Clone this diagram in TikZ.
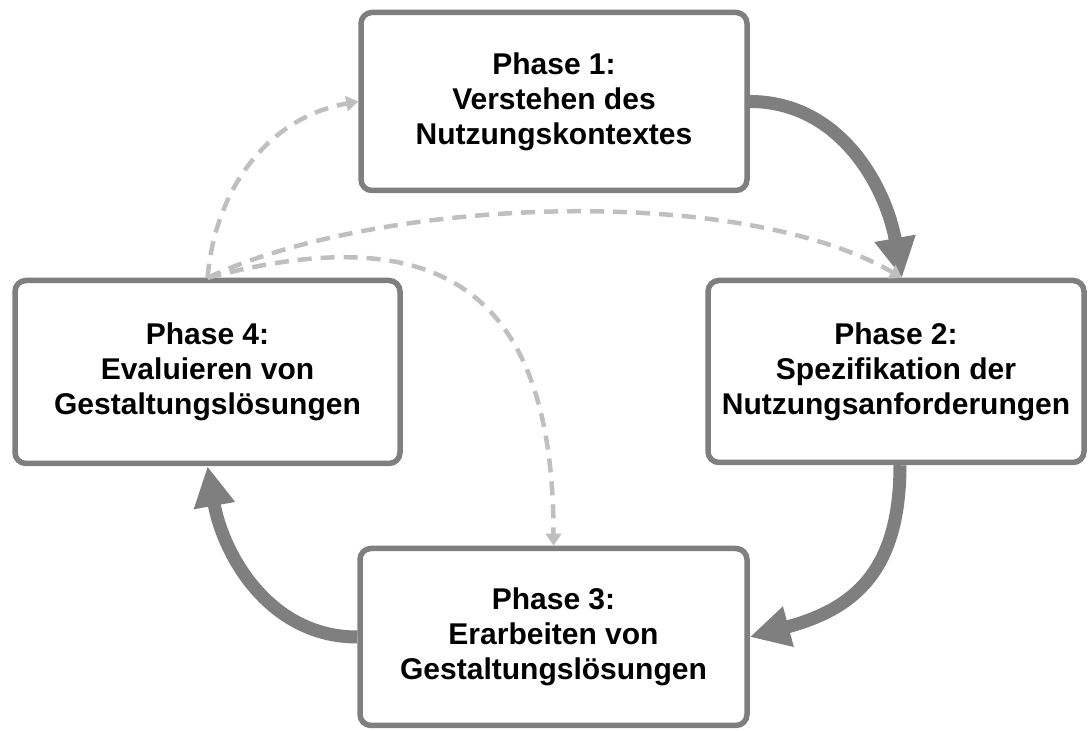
\documentclass[tikz,border=0pt]{standalone}
\usepackage{fontspec}
\setmainfont{Liberation Sans}
\usetikzlibrary{arrows.meta}
\definecolor{boxgray}{HTML}{7F7F7F}
\definecolor{dashgray}{HTML}{BFBFBF}
\begin{document}
\begin{tikzpicture}[x=1pt,y=1pt,
  phase/.style={draw=boxgray, line width=5.5pt, rounded corners=11pt, fill=white,
    align=center, font=\bfseries\fontsize{30}{35}\selectfont, inner sep=0pt},
  flow/.style={draw=boxgray, line width=13pt, -{Triangle[length=40pt,width=39pt]}},
  back/.style={draw=dashgray, line width=4.5pt, dash pattern=on 14pt off 9pt,
    -{Triangle[length=12pt,width=15pt]}}]
\useasboundingbox (0,0) rectangle (1088,731);
\node[phase, minimum width=386pt, minimum height=178pt] (b1) at (554,629.5)
  {Phase 1:\\Verstehen des\\Nutzungskontextes};
\node[phase, minimum width=376pt, minimum height=182pt] (b2) at (896,359.5)
  {Phase 2:\\Spezifikation der\\Nutzungsanforderungen};
\node[phase, minimum width=385pt, minimum height=183pt] (b4) at (207.5,359)
  {Phase 4:\\Evaluieren von\\Gestaltungslösungen};
\node[phase, minimum width=387pt, minimum height=177pt] (b3) at (553.5,94)
  {Phase 3:\\Erarbeiten von\\Gestaltungslösungen};
% main cycle
\draw[flow] (b1.east) to[out=0,in=100] ([xshift=6pt]b2.north);
\draw[flow] ([xshift=4pt]b2.south) to[out=-90,in=15,looseness=1.2] (b3.east);
\draw[flow] (b3.west) to[out=180,in=-80] (b4.south);
% iterations
\draw[back] (b4.north) to[out=85,in=190] (b1.west);
\draw[back] (b4.north) to[out=25,in=150,looseness=0.7] ([xshift=6pt]b2.north);
\draw[back] (b4.north) .. controls (430,512) and (553.5,450) .. (b3.north);
\end{tikzpicture}
\end{document}
